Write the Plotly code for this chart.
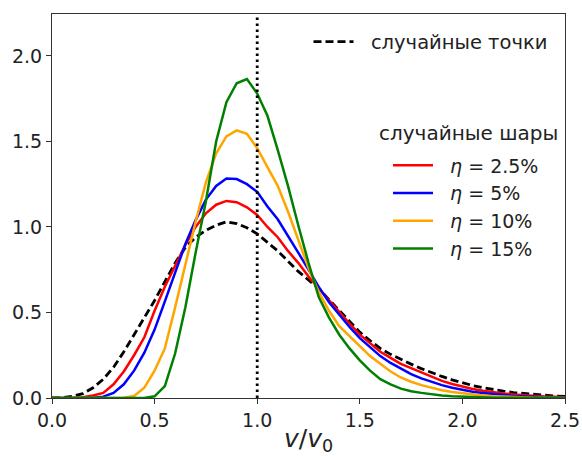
import plotly.graph_objects as go

# ---- data ----
x_vals = [round(i * 0.05, 2) for i in range(51)]

random_points = [0.0, 0.002, 0.01, 0.025, 0.06, 0.11, 0.18, 0.27, 0.37, 0.47,
                 0.57, 0.68, 0.79, 0.88, 0.94, 0.98, 1.01, 1.03, 1.02, 0.995,
                 0.96, 0.91, 0.86, 0.80, 0.74, 0.69, 0.64, 0.575, 0.51, 0.445,
                 0.385, 0.335, 0.29, 0.255, 0.225, 0.198, 0.172, 0.148, 0.126, 0.106,
                 0.088, 0.073, 0.06, 0.049, 0.04, 0.032, 0.026, 0.02, 0.016, 0.012, 0.009]

eta_2_5 = [0.0, 0.0, 0.001, 0.005, 0.015, 0.03, 0.08, 0.155, 0.25, 0.355,
           0.51, 0.65, 0.77, 0.895, 1.0, 1.08, 1.13, 1.152, 1.145, 1.115,
           1.07, 1.0, 0.94, 0.86, 0.79, 0.71, 0.64, 0.57, 0.50, 0.435,
           0.37, 0.32, 0.27, 0.235, 0.20, 0.175, 0.15, 0.125, 0.10, 0.082,
           0.066, 0.053, 0.043, 0.034, 0.027, 0.021, 0.016, 0.012, 0.009, 0.007, 0.005]

eta_5 = [0.0, 0.0, 0.0, 0.0, 0.002, 0.008, 0.03, 0.08, 0.16, 0.265,
         0.40, 0.565, 0.73, 0.90, 1.04, 1.16, 1.24, 1.283, 1.28, 1.25,
         1.205, 1.12, 1.045, 0.95, 0.85, 0.75, 0.65, 0.56, 0.485, 0.415,
         0.35, 0.295, 0.245, 0.205, 0.17, 0.14, 0.115, 0.093, 0.075, 0.06,
         0.048, 0.037, 0.029, 0.022, 0.016, 0.012, 0.009, 0.006, 0.004, 0.003, 0.002]

eta_10 = [0.0, 0.0, 0.0, 0.0, 0.0, 0.0, 0.0, 0.002, 0.012, 0.06,
          0.16, 0.29, 0.53, 0.78, 1.03, 1.26, 1.43, 1.53, 1.565, 1.545,
          1.46, 1.35, 1.24, 1.09, 0.93, 0.76, 0.62, 0.51, 0.42, 0.36,
          0.30, 0.245, 0.20, 0.155, 0.12, 0.095, 0.075, 0.058, 0.045, 0.035,
          0.027, 0.02, 0.014, 0.01, 0.007, 0.005, 0.003, 0.002, 0.001, 0.001, 0.0]

eta_15 = [0.0, 0.0, 0.0, 0.0, 0.0, 0.0, 0.0, 0.0, 0.0, 0.0,
          0.01, 0.07, 0.26, 0.53, 0.85, 1.15, 1.50, 1.73, 1.84, 1.865,
          1.78, 1.65, 1.45, 1.24, 1.01, 0.79, 0.59, 0.47, 0.37, 0.29,
          0.22, 0.16, 0.11, 0.08, 0.055, 0.04, 0.03, 0.02, 0.014, 0.01,
          0.007, 0.005, 0.003, 0.002, 0.001, 0.001, 0.0, 0.0, 0.0, 0.0, 0.0]

series_names = ["<i>η</i> = 2.5%", "<i>η</i> = 5%", "<i>η</i> = 10%", "<i>η</i> = 15%"]
series_vals = [eta_2_5, eta_5, eta_10, eta_15]
series_colors = ["#ff0000", "#0000ff", "#ffa500", "#008000"]

x_ticks = [0.0, 0.5, 1.0, 1.5, 2.0, 2.5]
y_ticks = [0.0, 0.5, 1.0, 1.5, 2.0]

FONT = "DejaVu Sans"
GAP = "\u00a0\u00a0"

fig = go.Figure()

fig.add_trace(go.Scatter(
    x=x_vals, y=random_points, mode="lines", name=GAP + "случайные точки",
    line=dict(color="black", width=2.8, dash="8px,4px"),
    legend="legend", legendgroup="g0",
))

for i, (nm, vals, col) in enumerate(zip(series_names, series_vals, series_colors)):
    fig.add_trace(go.Scatter(
        x=x_vals, y=vals, mode="lines", name=GAP + nm,
        line=dict(color=col, width=2.5),
        legend="legend2", legendgroup=f"g{i+1}",
    ))

fig.add_vline(x=1.0, line=dict(color="black", width=2.8, dash="2.5px,3.5px"))

axis_common = dict(
    showgrid=False, zeroline=False, automargin=False,
    showline=True, linecolor="#333333", linewidth=1, mirror=True,
    ticks="outside", ticklen=5, tickwidth=1, tickcolor="#333333",
    tickfont=dict(family=FONT, size=19, color="#222222"),
)

fig.update_xaxes(range=[0, 2.5], tickvals=x_ticks, tickformat=".1f",
                 title=dict(text="<i>v</i>/<i>v</i><sub>0</sub>",
                            font=dict(family=FONT, size=25, color="#222222"), standoff=2),
                 **axis_common)
fig.update_yaxes(range=[0, 2.245], tickvals=y_ticks, tickformat=".1f", **axis_common)

fig.update_layout(
    width=582, height=456,
    margin=dict(l=52, r=17, t=14, b=58, autoexpand=False),
    paper_bgcolor="white", plot_bgcolor="white",
    font=dict(family=FONT, color="#222222"),
    legend=dict(x=0.5, y=0.978, xanchor="left", yanchor="top",
                bgcolor="rgba(0,0,0,0)", borderwidth=0,
                font=dict(family=FONT, size=19.5, color="#222222"),
                itemwidth=40),
    legend2=dict(x=0.655, y=0.655, xanchor="left", yanchor="top",
                 bgcolor="rgba(0,0,0,0)", borderwidth=0,
                 font=dict(family=FONT, size=19, color="#222222"),
                 itemwidth=40, tracegroupgap=0),
    annotations=[dict(text="случайные шары", x=(377 - 52) / 513, y=(398 - 133) / 384,
                      xref="paper", yref="paper", xanchor="left", yanchor="middle",
                      showarrow=False, font=dict(family=FONT, size=20, color="#222222"))],
    showlegend=True,
)

fig.write_html("out.html")
